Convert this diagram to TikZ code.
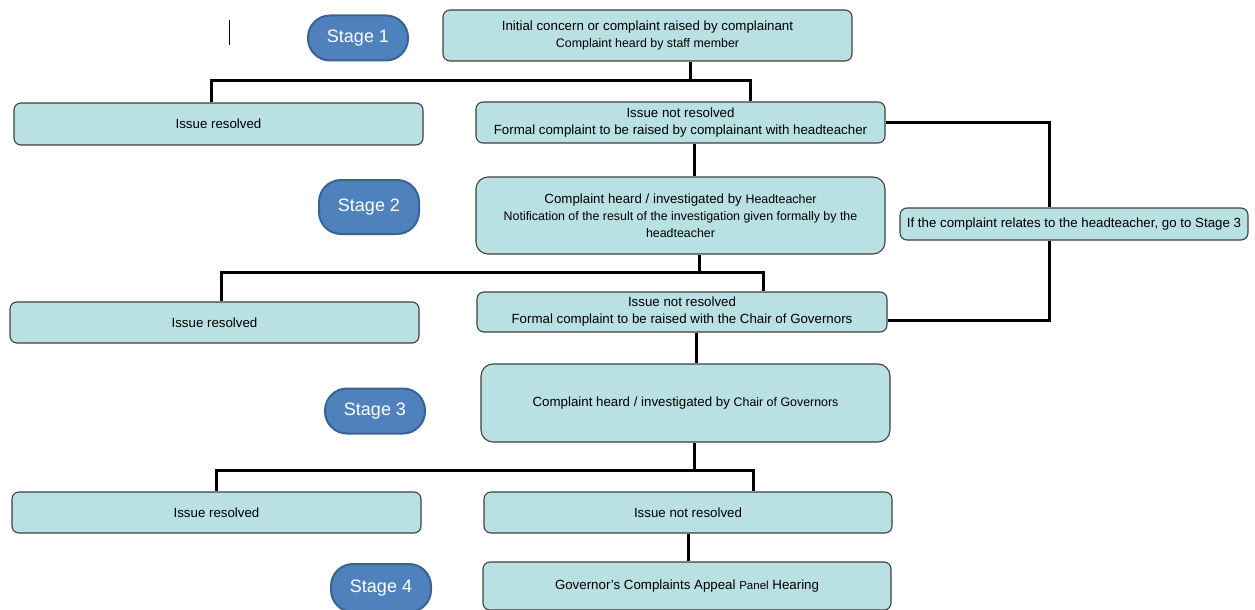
\documentclass[tikz,border=0pt]{standalone}
\usepackage{fontspec}
\setmainfont{Liberation Sans}
\usetikzlibrary{positioning, calc}
\definecolor{boxfill}{HTML}{B9E0E3}
\definecolor{stagefill}{HTML}{4F81BD}
\definecolor{stageline}{HTML}{3A6393}
\newcommand{\smalltxt}{\fontsize{12.4}{16}\selectfont}

\begin{document}
\begin{tikzpicture}[
x=1pt, y=-1pt,
    box/.style = {rectangle, rounded corners=7pt, draw=black!75, line width=1.1pt,
        fill=boxfill, minimum width=409pt, minimum height=#1, align=center,
        inner sep=2pt, font=\fontsize{13.3}{17}\selectfont},
    box/.default = 42pt,
    bigbox/.style = {box=#1, rounded corners=12pt},
    stagebox/.style = {rectangle, rounded corners=22pt, draw=stageline, line width=2pt,
        fill=stagefill, text=white, minimum width=100pt, minimum height=45pt,
        font=\fontsize{18}{20}\selectfont},
    link/.style = {line width=3pt},
]
\useasboundingbox (0,0) rectangle (1255,610);

% stages
\node[stagebox] (s1) at (358,38) {Stage 1};
\node[stagebox, minimum height=54pt] (s2) at (369,207) {Stage 2};
\node[stagebox] (s3) at (375,411) {Stage 3};
\node[stagebox, minimum height=48pt] (s4) at (381,588) {Stage 4};

\coordinate (mark) at (229,20);
\draw[line width=1pt] (mark) -- ++(0,25);

% boxes
\node[box=51pt] (top) at (647.5,35.5) {Initial concern or complaint raised by complainant\\ {\smalltxt Complaint heard by staff member}};
\node[box] (res1) at (218.5,124) {Issue resolved};
\node[box=41pt] (notres1) at (680.5,122.5) {Issue not resolved\\ Formal complaint to be raised by complainant with headteacher};
\node[bigbox=77pt] (inv2) at (680.5,215.5) {Complaint heard / investigated by {\smalltxt Headteacher}\\ {\smalltxt Notification of the result of the investigation given formally by the}\\ {\smalltxt headteacher}};
\node[box=32pt, minimum width=348pt] (ht) at (1074,224) {If the complaint relates to the headteacher, go to Stage 3};
\node[box=41pt] (res2) at (214.5,322.5) {Issue resolved};
\node[box=40pt, minimum width=410pt] (notres2) at (682,312) {Issue not resolved\\ Formal complaint to be raised with the Chair of Governors};
\node[bigbox=78pt] (inv3) at (685.5,403) {Complaint heard / investigated by {\smalltxt Chair of Governors}};
\node[box=41pt] (res3) at (216.5,512.5) {Issue resolved};
\node[box=41pt, minimum width=408pt] (notres3) at (688,512.5) {Issue not resolved};
\node[box=48pt, minimum width=408pt] (appeal) at (687,586) {Governor's Complaints Appeal {\fontsize{11.5}{14}\selectfont Panel} Hearing};

% connectors
\coordinate (j1) at (690,80);
\draw[link] (top.south -| j1) -- (j1) -| ([xshift=-7.5pt]res1.north);
\draw[link] (j1) -| ([xshift=69.5pt]notres1.north);
\draw[link] ([xshift=13.5pt]notres1.south) -- ([xshift=13.5pt]notres1.south |- inv2.north);
\draw[link] (notres1.east) -| ([xshift=-25pt]ht.north);
\draw[link] ([xshift=-25pt]ht.south) |- ([yshift=-8pt]notres2.east);

\coordinate (j2) at (699,272);
\draw[link] (inv2.south -| j2) -- (j2) -| ([xshift=6.5pt]res2.north);
\draw[link] (j2) -| ([xshift=81pt]notres2.north);
\draw[link] ([xshift=14pt]notres2.south) -- ([xshift=14pt]notres2.south |- inv3.north);

\coordinate (j3) at (694,470);
\draw[link] (inv3.south -| j3) -- (j3) -| (res3.north);
\draw[link] (j3) -| ([xshift=65pt]notres3.north);
\draw[link] (notres3.south) -- (notres3.south |- appeal.north);

\end{tikzpicture}
\end{document}
